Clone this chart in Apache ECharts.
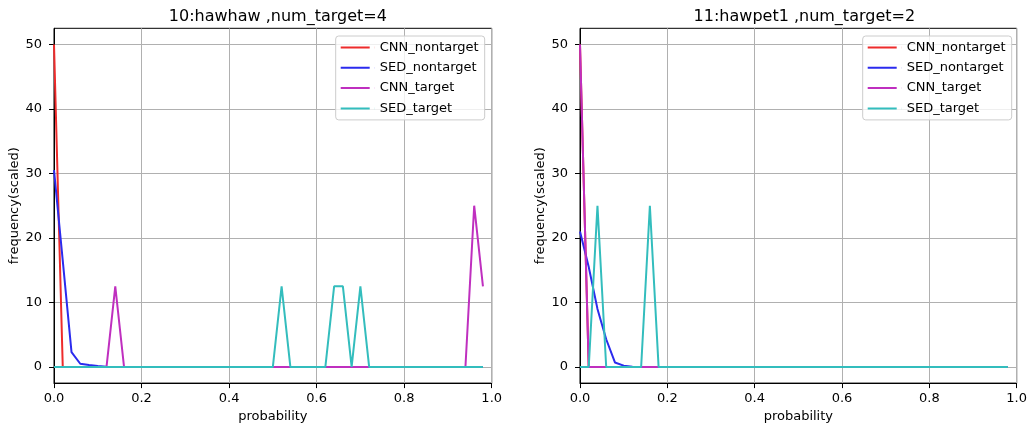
<!DOCTYPE html>
<html>
<head>
<meta charset="utf-8">
<script src="https://cdn.jsdelivr.net/npm/echarts@6/dist/echarts.min.js"></script>
<style>
  html, body { margin: 0; padding: 0; background: #fff; }
  #chart { width: 1030px; height: 428px; }
</style>
</head>
<body>
<div id="chart"></div>
<script>
// probability bins (x)
var bins = [0.00, 0.02, 0.04, 0.06, 0.08, 0.10, 0.12, 0.14, 0.16, 0.18,
            0.20, 0.22, 0.24, 0.26, 0.28, 0.30, 0.32, 0.34, 0.36, 0.38,
            0.40, 0.42, 0.44, 0.46, 0.48, 0.50, 0.52, 0.54, 0.56, 0.58,
            0.60, 0.62, 0.64, 0.66, 0.68, 0.70, 0.72, 0.74, 0.76, 0.78,
            0.80, 0.82, 0.84, 0.86, 0.88, 0.90, 0.92, 0.94, 0.96, 0.98];

var legendNames = ['CNN_nontarget', 'SED_nontarget', 'CNN_target', 'SED_target'];
var titles = ['10:hawhaw ,num_target=4', '11:hawpet1 ,num_target=2'];
var yTicks = [0, 10, 20, 30, 40, 50];

// 10:hawhaw
var cnnNon1 = [50, 0, 0, 0, 0, 0, 0, 0, 0, 0,  0, 0, 0, 0, 0, 0, 0, 0, 0, 0,
               0, 0, 0, 0, 0, 0, 0, 0, 0, 0,  0, 0, 0, 0, 0, 0, 0, 0, 0, 0,
               0, 0, 0, 0, 0, 0, 0, 0, 0, 0];
var sedNon1 = [30.5, 16.5, 2.3, 0.5, 0.3, 0.15, 0.05, 0, 0, 0,  0, 0, 0, 0, 0, 0, 0, 0, 0, 0,
               0, 0, 0, 0, 0, 0, 0, 0, 0, 0,  0, 0, 0, 0, 0, 0, 0, 0, 0, 0,
               0, 0, 0, 0, 0, 0, 0, 0, 0, 0];
var cnnTgt1 = [0, 0, 0, 0, 0, 0, 0, 12.5, 0, 0,  0, 0, 0, 0, 0, 0, 0, 0, 0, 0,
               0, 0, 0, 0, 0, 0, 0, 0, 0, 0,  0, 0, 0, 0, 0, 0, 0, 0, 0, 0,
               0, 0, 0, 0, 0, 0, 0, 0, 25, 12.5];
var sedTgt1 = [0, 0, 0, 0, 0, 0, 0, 0, 0, 0,  0, 0, 0, 0, 0, 0, 0, 0, 0, 0,
               0, 0, 0, 0, 0, 0, 12.5, 0, 0, 0,  0, 0, 12.5, 12.5, 0, 12.5, 0, 0, 0, 0,
               0, 0, 0, 0, 0, 0, 0, 0, 0, 0];

// 11:hawpet1
var cnnNon2 = [50, 0, 0, 0, 0, 0, 0, 0, 0, 0,  0, 0, 0, 0, 0, 0, 0, 0, 0, 0,
               0, 0, 0, 0, 0, 0, 0, 0, 0, 0,  0, 0, 0, 0, 0, 0, 0, 0, 0, 0,
               0, 0, 0, 0, 0, 0, 0, 0, 0, 0];
var sedNon2 = [21, 15.5, 9, 4.3, 0.7, 0.2, 0.05, 0, 0, 0,  0, 0, 0, 0, 0, 0, 0, 0, 0, 0,
               0, 0, 0, 0, 0, 0, 0, 0, 0, 0,  0, 0, 0, 0, 0, 0, 0, 0, 0, 0,
               0, 0, 0, 0, 0, 0, 0, 0, 0, 0];
var cnnTgt2 = [50, 0, 0, 0, 0, 0, 0, 0, 0, 0,  0, 0, 0, 0, 0, 0, 0, 0, 0, 0,
               0, 0, 0, 0, 0, 0, 0, 0, 0, 0,  0, 0, 0, 0, 0, 0, 0, 0, 0, 0,
               0, 0, 0, 0, 0, 0, 0, 0, 0, 0];
var sedTgt2 = [0, 0, 25, 0, 0, 0, 0, 0, 25, 0,  0, 0, 0, 0, 0, 0, 0, 0, 0, 0,
               0, 0, 0, 0, 0, 0, 0, 0, 0, 0,  0, 0, 0, 0, 0, 0, 0, 0, 0, 0,
               0, 0, 0, 0, 0, 0, 0, 0, 0, 0];

var colors = ['#ee2b2b', '#2b2bee', '#bf2fbf', '#33bdbd'];
var font = 'DejaVu Sans';

function pairs(vals) {
    return bins.map(function (x, i) { return [x, vals[i]]; });
}

var grids = [
    { left: 54, width: 437.7, top: 28.3, height: 355 },
    { left: 580, width: 438.7, top: 28.3, height: 355 }
];

var panels = [
    [cnnNon1, sedNon1, cnnTgt1, sedTgt1],
    [cnnNon2, sedNon2, cnnTgt2, sedTgt2]
];

var option = {
    backgroundColor: '#fff',
    animation: false,
    title: [],
    legend: [],
    grid: [],
    xAxis: [],
    yAxis: [],
    series: []
};

grids.forEach(function (g, k) {
    option.grid.push({
        left: g.left, width: g.width, top: g.top, height: g.height,
        show: true, borderColor: '#000', borderWidth: 1, backgroundColor: 'transparent'
    });
    option.title.push({
        text: titles[k],
        left: g.left + g.width / 2,
        top: 4,
        textAlign: 'center',
        textStyle: { fontFamily: font, fontSize: 16, fontWeight: 'normal', color: '#000' }
    });
    option.xAxis.push({
        type: 'value', gridIndex: k, min: 0, max: 1, interval: 0.2,
        name: 'probability', nameLocation: 'middle', nameGap: 26,
        nameTextStyle: { fontFamily: font, fontSize: 13, color: '#000' },
        axisLine: { show: true, onZero: false, lineStyle: { color: '#000', width: 1 } },
        axisTick: { show: true, length: 5, lineStyle: { color: '#000' } },
        axisLabel: {
            fontFamily: font, fontSize: 13, color: '#000', margin: 9,
            formatter: function (v) { return v.toFixed(1); }
        },
        splitLine: { show: true, lineStyle: { color: '#b0b0b0', width: 1 } }
    });
    option.yAxis.push({
        type: 'value', gridIndex: k, min: -2.5, max: 52.5,
        name: 'frequency(scaled)', nameLocation: 'middle', nameGap: 32,
        nameTextStyle: { fontFamily: font, fontSize: 13, color: '#000' },
        axisLine: { show: true, onZero: false, lineStyle: { color: '#000', width: 1 } },
        axisTick: { show: true, length: 5, lineStyle: { color: '#000' }, customValues: yTicks },
        axisLabel: { fontFamily: font, fontSize: 13, color: '#000', margin: 12, customValues: yTicks },
        splitLine: { show: true, lineStyle: { color: '#b0b0b0', width: 1 } }
    });
    option.legend.push({
        data: legendNames,
        orient: 'vertical',
        left: g.left + g.width - 156,
        top: 36,
        padding: [5, 6, 5, 5],
        itemGap: 7.3,
        itemWidth: 34,
        itemHeight: 2,
        icon: 'path://M0 0H29V2H0Z M33.9 0H34V2H33.9Z',
        backgroundColor: 'rgba(255,255,255,0.8)',
        borderColor: '#cccccc',
        borderWidth: 1,
        borderRadius: 3,
        textStyle: { fontFamily: font, fontSize: 13, color: '#000', lineHeight: 13 }
    });
    panels[k].forEach(function (vals, j) {
        option.series.push({
            name: legendNames[j],
            type: 'line',
            xAxisIndex: k, yAxisIndex: k,
            data: pairs(vals),
            showSymbol: false,
            color: colors[j],
            lineStyle: { width: 2, color: colors[j] },
            z: 2 + j
        });
    });
});

var chart = echarts.init(document.getElementById('chart'));
chart.setOption(option);
</script>
</body>
</html>
